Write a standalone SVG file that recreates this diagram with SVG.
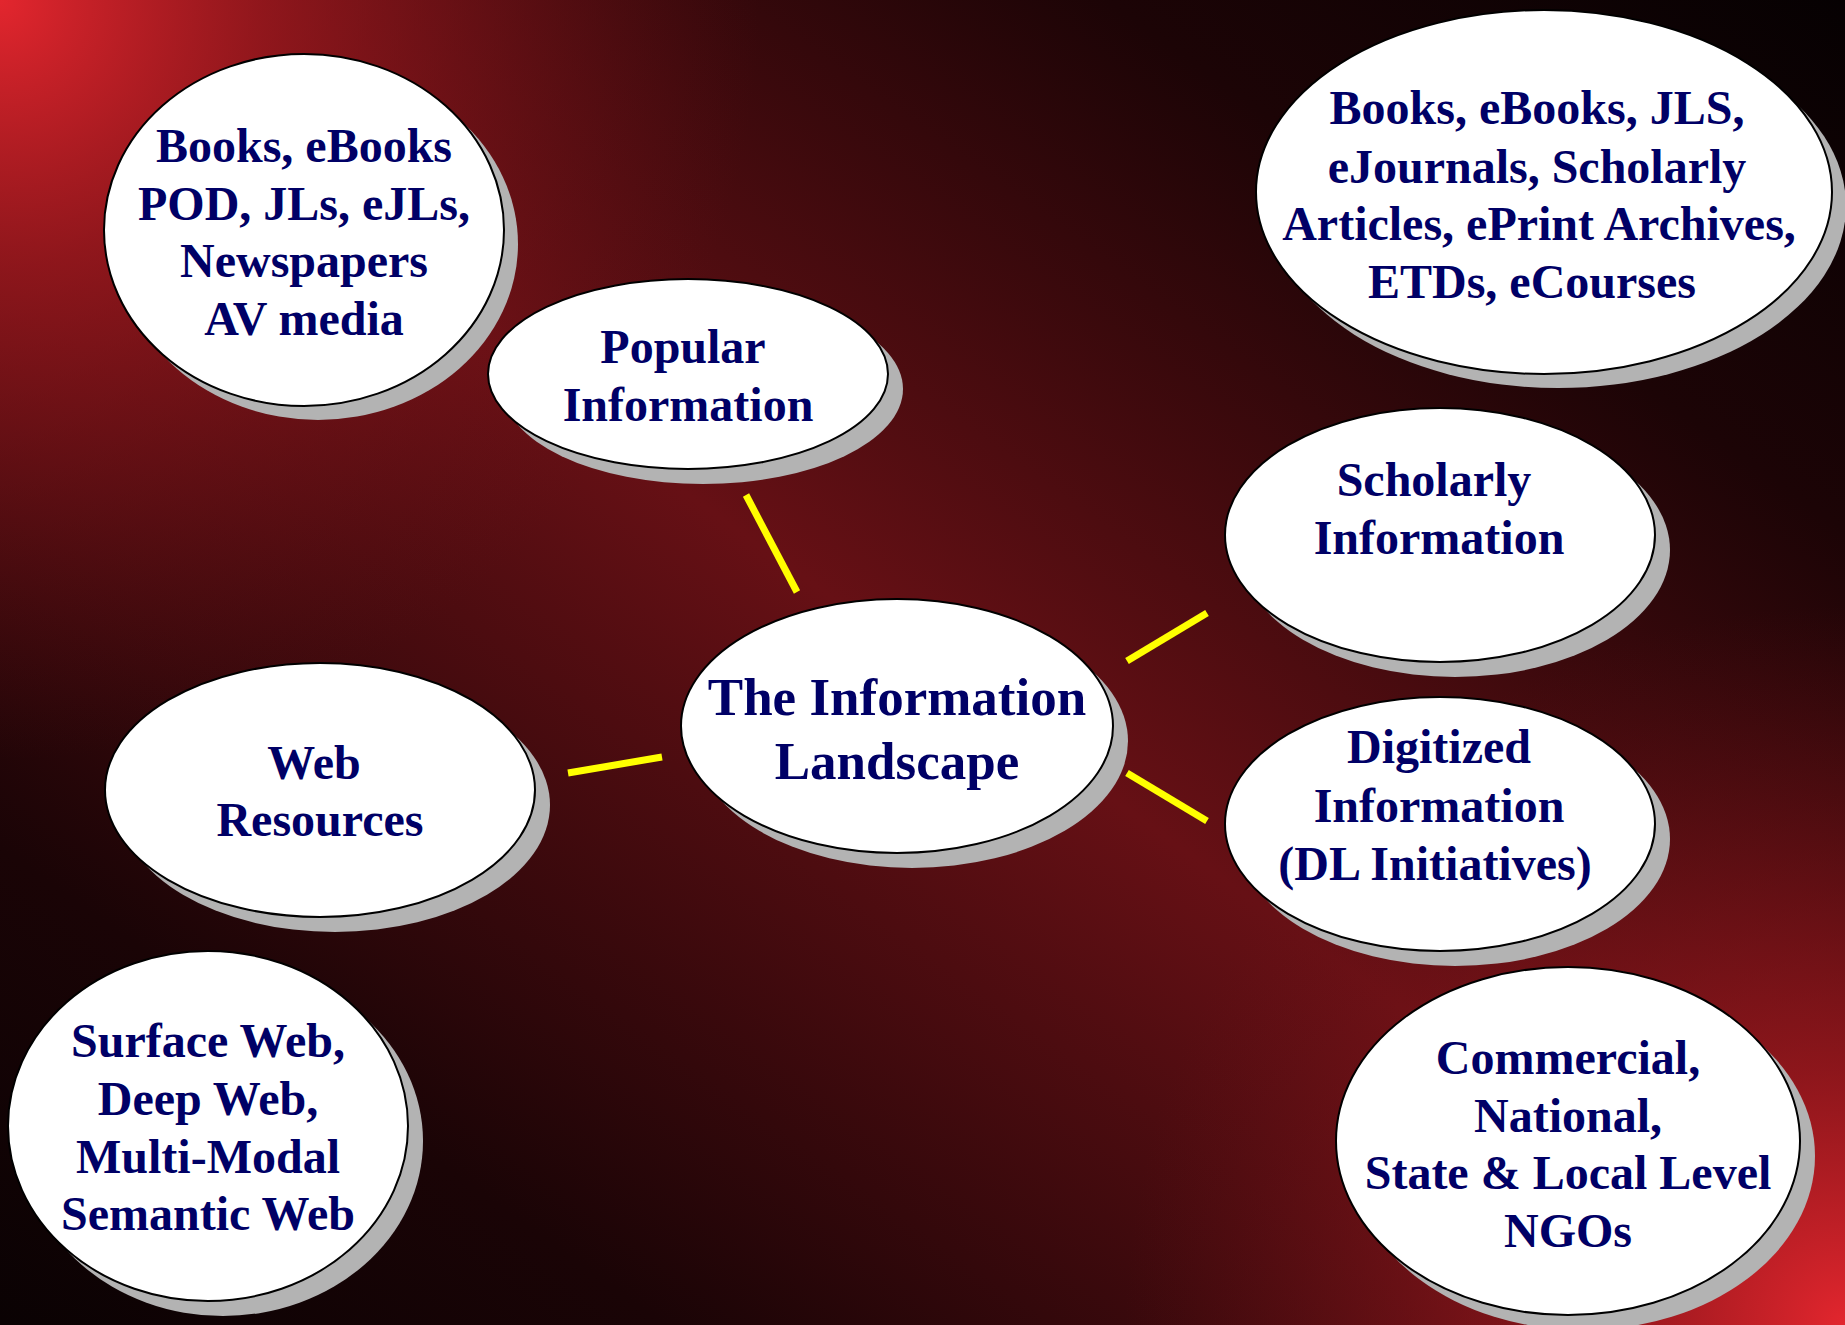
<svg xmlns="http://www.w3.org/2000/svg" width="1845" height="1325" viewBox="0 0 1845 1325">
<defs>
<linearGradient id="band" gradientUnits="userSpaceOnUse" x1="295" y1="1536" x2="1550" y2="-211">
<stop offset="0" stop-color="#0a0203"/>
<stop offset="0.18" stop-color="#1a0406"/>
<stop offset="0.5" stop-color="#661015"/>
<stop offset="0.8" stop-color="#1c0406"/>
<stop offset="1" stop-color="#060102"/>
</linearGradient>
<radialGradient id="tl" gradientUnits="userSpaceOnUse" cx="0" cy="0" r="760">
<stop offset="0" stop-color="#e3262e" stop-opacity="1"/>
<stop offset="0.35" stop-color="#a81a20" stop-opacity="0.7"/>
<stop offset="1" stop-color="#6a1015" stop-opacity="0"/>
</radialGradient>
<radialGradient id="br" gradientUnits="userSpaceOnUse" cx="1845" cy="1325" r="720">
<stop offset="0" stop-color="#e3262e" stop-opacity="1"/>
<stop offset="0.35" stop-color="#a81a20" stop-opacity="0.7"/>
<stop offset="1" stop-color="#6a1015" stop-opacity="0"/>
</radialGradient>
</defs>
<style>
.sh{fill:#b3b3b3}
.el{fill:#ffffff;stroke:#000000;stroke-width:2}
.t{font-family:"Liberation Serif","Times New Roman",serif;font-weight:bold;font-size:48px;fill:#000066;text-anchor:middle}
.big{font-size:53px}
.con{stroke:#ffff00;stroke-width:7;fill:none}
</style>
<rect x="0" y="0" width="1845" height="1325" fill="url(#band)"/>
<rect x="0" y="0" width="1845" height="1325" fill="url(#tl)"/>
<rect x="0" y="0" width="1845" height="1325" fill="url(#br)"/>

<g id="connectors">
<line class="con" x1="746" y1="495" x2="797" y2="592"/>
<line class="con" x1="1127" y1="661" x2="1207" y2="613"/>
<line class="con" x1="1127" y1="773" x2="1207" y2="821"/>
<line class="con" x1="568" y1="773" x2="662" y2="757"/>
</g>

<g id="node-popular-items">
<ellipse class="sh" cx="318" cy="244" rx="200" ry="176"/>
<ellipse class="el" cx="304" cy="230" rx="200" ry="176"/>
<text class="t" x="304" y="162">Books, eBooks</text>
<text class="t" x="304" y="220">POD, JLs, eJLs,</text>
<text class="t" x="304" y="277">Newspapers</text>
<text class="t" x="304" y="335">AV media</text>
</g>

<g id="node-popular">
<ellipse class="sh" cx="703" cy="389" rx="200" ry="95"/>
<ellipse class="el" cx="688" cy="374" rx="200" ry="95"/>
<text class="t" x="683" y="363">Popular</text>
<text class="t" x="688" y="421">Information</text>
</g>

<g id="node-scholarly-items">
<ellipse class="sh" cx="1558" cy="206" rx="288" ry="182"/>
<ellipse class="el" cx="1544" cy="192" rx="288" ry="182"/>
<text class="t" x="1537" y="124">Books, eBooks, JLS,</text>
<text class="t" x="1537" y="183">eJournals, Scholarly</text>
<text class="t" x="1539" y="240">Articles, ePrint Archives,</text>
<text class="t" x="1532" y="298">ETDs, eCourses</text>
</g>

<g id="node-scholarly">
<ellipse class="sh" cx="1455" cy="550" rx="215" ry="127"/>
<ellipse class="el" cx="1440" cy="535" rx="215" ry="127"/>
<text class="t" x="1434" y="496">Scholarly</text>
<text class="t" x="1439" y="554">Information</text>
</g>

<g id="node-center">
<ellipse class="sh" cx="912" cy="741" rx="216" ry="127"/>
<ellipse class="el" cx="897" cy="726" rx="216" ry="127"/>
<text class="t big" x="897" y="715">The Information</text>
<text class="t big" x="897" y="779">Landscape</text>
</g>

<g id="node-web">
<ellipse class="sh" cx="335" cy="805" rx="215" ry="127"/>
<ellipse class="el" cx="320" cy="790" rx="215" ry="127"/>
<text class="t" x="314" y="779">Web</text>
<text class="t" x="320" y="836">Resources</text>
</g>

<g id="node-digitized">
<ellipse class="sh" cx="1455" cy="839" rx="215" ry="127"/>
<ellipse class="el" cx="1440" cy="824" rx="215" ry="127"/>
<text class="t" x="1439" y="763">Digitized</text>
<text class="t" x="1439" y="822">Information</text>
<text class="t" x="1435" y="880">(DL Initiatives)</text>
</g>

<g id="node-web-items">
<ellipse class="sh" cx="223" cy="1141" rx="200" ry="175"/>
<ellipse class="el" cx="208" cy="1126" rx="200" ry="175"/>
<text class="t" x="208" y="1057">Surface Web,</text>
<text class="t" x="208" y="1115">Deep Web,</text>
<text class="t" x="208" y="1173">Multi-Modal</text>
<text class="t" x="208" y="1230">Semantic Web</text>
</g>

<g id="node-digitized-items">
<ellipse class="sh" cx="1583" cy="1156" rx="232" ry="174"/>
<ellipse class="el" cx="1568" cy="1141" rx="232" ry="174"/>
<text class="t" x="1568" y="1074">Commercial,</text>
<text class="t" x="1568" y="1132">National,</text>
<text class="t" x="1568" y="1189">State &amp; Local Level</text>
<text class="t" x="1568" y="1247">NGOs</text>
</g>
</svg>
